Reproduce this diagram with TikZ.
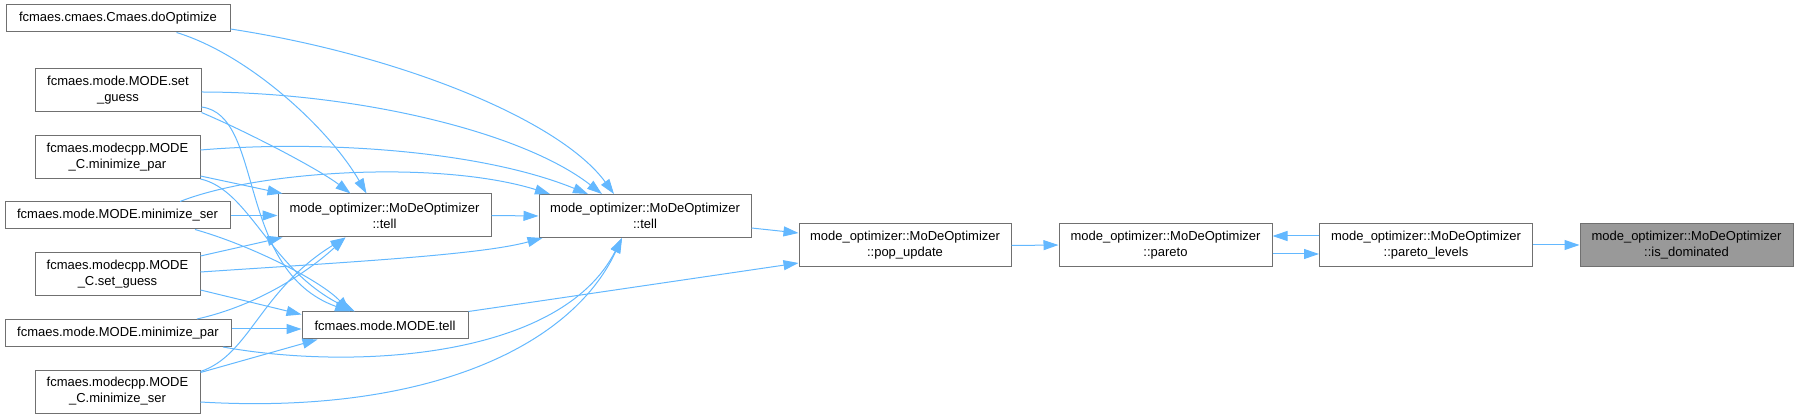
\documentclass[tikz,border=0pt]{standalone}
\usepackage{fontspec}
\setmainfont{Liberation Sans}
\usetikzlibrary{arrows.meta}
\definecolor{edgeblue}{HTML}{63B8FF}
\definecolor{boxgray}{HTML}{707070}
\definecolor{mainfill}{HTML}{999999}
\tikzset{
  fn/.style={draw=boxgray, fill=white, line width=1pt, rectangle, inner sep=0pt, align=center, font=\fontsize{13}{16}\selectfont},
  one/.style={fn, minimum height=27pt},
  two/.style={fn, minimum height=43pt},
  cur/.style={two, fill=mainfill},
  call/.style={draw=edgeblue, line width=1pt, -{Triangle[length=15pt, width=10pt]}},
}
\begin{document}
\begin{tikzpicture}[x=1pt, y=-1pt]
\useasboundingbox (0,0) rectangle (1798,419);

% Callers, left column
\node[one, minimum width=224pt] (dopt) at (118,18.5) {fcmaes.cmaes.Cmaes.doOptimize};
\node[two, minimum width=166pt] (msg) at (118,90.5) {fcmaes.mode.MODE.set\\\_guess};
\node[two, minimum width=165pt] (cmpar) at (117.5,157) {fcmaes.modecpp.MODE\\\_C.minimize\_par};
\node[one, minimum width=225pt] (mser) at (117.5,215.5) {fcmaes.mode.MODE.minimize\_ser};
\node[two, minimum width=165pt] (csg) at (117.5,274) {fcmaes.modecpp.MODE\\\_C.set\_guess};
\node[one, minimum width=226pt] (mpar) at (118,333) {fcmaes.mode.MODE.minimize\_par};
\node[two, minimum width=165pt] (cser) at (117.5,391.5) {fcmaes.modecpp.MODE\\\_C.minimize\_ser};

% Middle
\node[two, minimum width=213pt] (tellA) at (384.5,215.5) {mode\_optimizer::MoDeOptimizer\\::tell};
\node[one, minimum width=166pt] (mtell) at (385,325.5) {fcmaes.mode.MODE.tell};
\node[two, minimum width=212pt] (tellB) at (645,216) {mode\_optimizer::MoDeOptimizer\\::tell};

% Chain to the right
\node[two, minimum width=212pt] (pop) at (905,245.5) {mode\_optimizer::MoDeOptimizer\\::pop\_update};
\node[two, minimum width=213pt] (par) at (1165.5,245) {mode\_optimizer::MoDeOptimizer\\::pareto};
\node[two, minimum width=213pt] (lev) at (1426,245) {mode\_optimizer::MoDeOptimizer\\::pareto\_levels};
\node[cur, minimum width=213pt] (dom) at (1686.5,245) {mode\_optimizer::MoDeOptimizer\\::is\_dominated};

% Calls into the second tell
\draw[call] ([yshift=-10.5pt]dopt.east) .. controls (400,55) and (560,120) .. ([xshift=-31pt]tellB.north);
\draw[call] ([yshift=-1.5pt]msg.east) .. controls (350,92) and (520,130) .. ([xshift=-43pt]tellB.north);
\draw[call] ([yshift=7pt]cmpar.east) .. controls (320,140) and (480,150) .. ([xshift=-57pt]tellB.north);
\draw[call] ([xshift=62.5pt]mser.north) .. controls (260,170) and (440,160) .. ([xshift=-95pt]tellB.north);
\draw[call] ([yshift=2pt]csg.east) .. controls (350,262) and (480,255) .. ([xshift=4pt]tellB.south west);
\draw[call] ([xshift=105pt]mpar.south) .. controls (350,370) and (560,360) .. ([xshift=-23pt]tellB.south);
\draw[call] ([yshift=-10.5pt]cser.east) .. controls (420,415) and (570,350) .. ([xshift=-23pt]tellB.south);
\draw[call] (tellA.east) -- (tellB.west);

% Calls into the first tell
\draw[call] ([xshift=58.5pt]dopt.south) .. controls (250,55) and (330,130) .. ([xshift=-18pt]tellA.north);
\draw[call] (msg.south east) .. controls (250,133) and (320,170) .. ([xshift=-34pt]tellA.north);
\draw[call] ([yshift=-19pt]cmpar.east) -- ([xshift=5pt]tellA.north west);
\draw[call] (mser.east) -- (tellA.west);
\draw[call] ([yshift=18pt]csg.east) -- ([xshift=5pt]tellA.south west);
\draw[call] ([xshift=79pt]mpar.north) .. controls (260,305) and (310,270) .. ([xshift=-39pt]tellA.south);
\draw[call] ([yshift=-2pt]cser.north east) .. controls (250,355) and (260,290) .. ([xshift=-39pt]tellA.south);

% Calls into MODE.tell
\draw[call] ([yshift=-16.5pt]msg.east) .. controls (265,115) and (235,270) .. ([xshift=-35pt]mtell.north);
\draw[call] (cmpar.south east) .. controls (250,190) and (270,270) .. ([xshift=-30pt]mtell.north);
\draw[call] ([xshift=77.5pt]mser.south) .. controls (250,245) and (320,280) .. ([xshift=-35pt]mtell.north);
\draw[call] ([yshift=-16pt]csg.east) -- ([yshift=11pt]mtell.west);
\draw[call] ([yshift=4pt]mpar.east) -- ([yshift=-3.5pt]mtell.west);
\draw[call] ([yshift=-3pt]cser.north east) -- ([xshift=16pt]mtell.south west);

% Right part
\draw[call] ([yshift=-12pt]tellB.east) -- ([yshift=12.5pt]pop.west);
\draw[call] (mtell.north east) -- ([yshift=-17.5pt]pop.west);
\draw[call] (pop.east) -- (par.west);
\draw[call] ([yshift=9pt]lev.west) -- ([yshift=9pt]par.east);
\draw[call] ([yshift=-9pt]par.east) -- ([yshift=-9pt]lev.west);
\draw[call] (lev.east) -- (dom.west);

\end{tikzpicture}
\end{document}
